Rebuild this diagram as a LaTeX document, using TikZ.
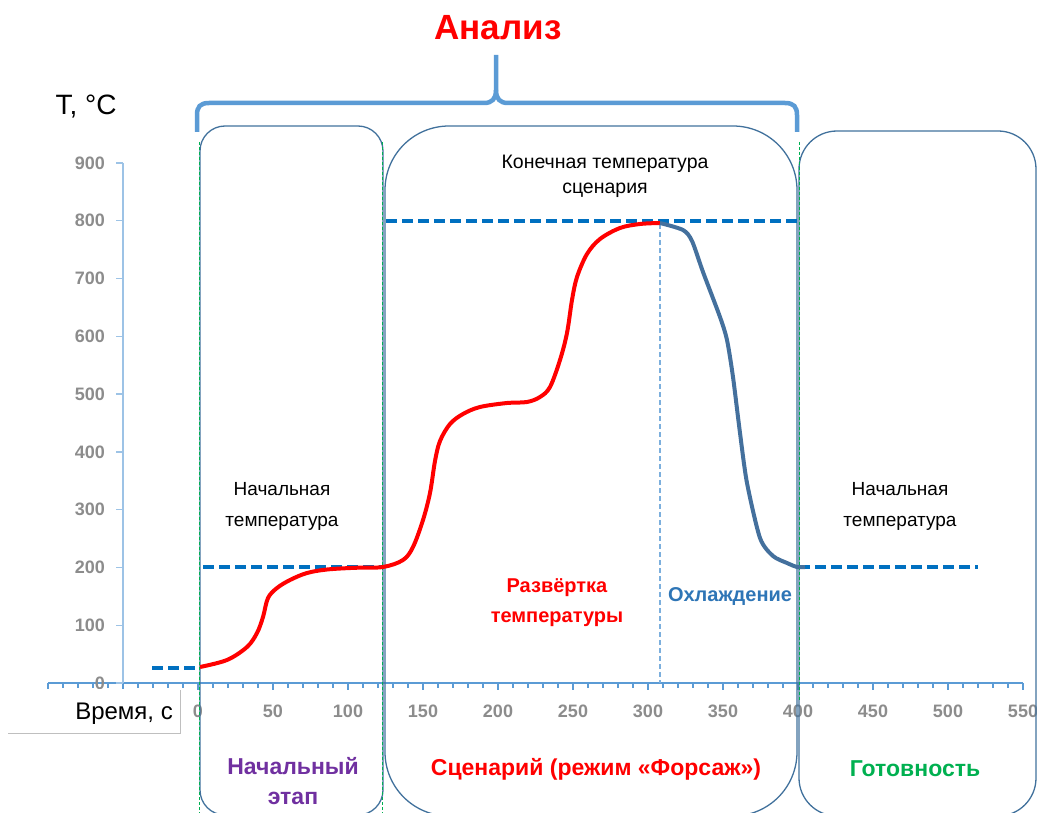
\documentclass[tikz,border=0pt]{standalone}
\usepackage{fontspec}
\setmainfont{Liberation Sans}
\definecolor{boxblue}{HTML}{41719C}
\definecolor{axisblue}{HTML}{5B9BD5}
\definecolor{yaxisblue}{HTML}{9DC3E6}
\definecolor{dashblue}{HTML}{0070C0}
\definecolor{tickgray}{HTML}{8C8C8C}
\definecolor{coolblue}{HTML}{44709D}
\definecolor{ohlblue}{HTML}{2E75B6}
\definecolor{stagepurple}{HTML}{7030A0}
\definecolor{readygreen}{HTML}{00B050}
\definecolor{shadowgray}{HTML}{BFBFBF}
\tikzset{
  boxline/.style={draw=boxblue, line width=1.3pt},
  greendash/.style={draw=readygreen, line width=1pt, dash pattern=on 3pt off 2pt},
  leveldash/.style={draw=dashblue, line width=3.6pt, dash pattern=on 11pt off 5pt},
  markdash/.style={draw=axisblue!80, line width=1.4pt, dash pattern=on 5pt off 3pt},
  bracestyle/.style={draw=axisblue, line width=4.5pt},
  ticklab/.style={text=tickgray, font=\fontsize{18}{21}\selectfont\bfseries, inner sep=0pt},
  plainlab/.style={align=center, inner sep=0pt},
  boldlab/.style={align=center, inner sep=0pt, font=\bfseries},
}
\begin{document}
\begin{tikzpicture}[x=1pt,y=-1pt]
\useasboundingbox (0,0) rectangle (1037,813);
% x axis
\draw[axisblue, line width=1.5pt] (48,683) -- (1023,683);
\foreach \u in {-100,-90,...,550}{
  \draw[axisblue, line width=1.3pt] ({198+1.5*\u},683) -- ({198+1.5*\u},687.5);
}
\foreach \u in {-100,-50,...,550}{
  \draw[axisblue, line width=1.3pt] ({198+1.5*\u},683) -- ({198+1.5*\u},689.5);
}
% y axis
\draw[yaxisblue, line width=1.5pt] (123,163) -- (123,683);
\foreach \v in {0,100,...,900}{
  \draw[yaxisblue, line width=1.3pt] (116,{683-0.5778*\v}) -- (123,{683-0.5778*\v});
  \node[ticklab, anchor=east] (yl\v) at (105,{683-0.5778*\v}) {\v};
}
\foreach \u in {0,50,...,550}{
  \node[ticklab] (xl\u) at ({198+1.5*\u},711) {\u};
}
% boxes
\draw[boxline, rounded corners=25pt] (200,126) rectangle (383,815);
\draw[boxline, rounded corners=64pt] (385,126) rectangle (797,816);
\draw[boxline, rounded corners=38pt] (799,131) rectangle (1036,816);
% green dashed markers
\draw[greendash] (199,142) -- (199,813);
\draw[greendash] (382,142) -- (382,813);
\draw[greendash] (799,142) -- (799,700);
% level lines
\draw[leveldash] (152,668) -- (199,668);
\draw[leveldash] (203,567) -- (383,567);
\draw[leveldash] (386,221) -- (797,221);
\draw[leveldash] (799,567) -- (978,567);
\draw[markdash] (660,224) -- (660,683);
% curves
\draw[red, line width=4pt, line join=round] plot[smooth, tension=0.55] coordinates {
 (200,667) (227,660) (247,647) (257,633) (263,617) (268,598) (277,588) (290,580)
 (307,573) (327,569.5) (355,567.8) (383,567) (403,560) (413,547) (423,520) (430,493)
 (435,461) (440,441) (450,424) (463,414) (480,407) (507,403) (527,402) (540,397)
 (550,387) (560,360) (567,333) (572,300) (577,277) (587,254) (600,239) (620,228)
 (640,224) (660,223)};
\draw[coolblue, line width=4pt, line join=round] plot[smooth, tension=0.45] coordinates {
 (660,223) (683,230) (692,241) (703,272) (720,317) (727,340) (733,377) (740,433)
 (747,483) (760,538) (773,556) (787,563) (797,567) (805,567)};
% brace
\draw[bracestyle] (197,132) -- (197,115) .. controls (197,107) and (200,103) .. (209,103)
  -- (484,103) .. controls (492,103) and (496,99) .. (496,90) -- (496,55);
\draw[bracestyle] (797,132) -- (797,115) .. controls (797,107) and (794,103) .. (785,103)
  -- (508,103) .. controls (500,103) and (496,99) .. (496,90);
% title
\node[inner sep=0pt, text=red, font=\fontsize{35}{40}\selectfont\bfseries] (title) at (498,28) {Анализ};
\node[inner sep=0pt, font=\fontsize{28}{32}\selectfont] (ylabel) at (86,107) {T, °C};
% x label box
\fill[white] (8,689) rectangle (180,733);
\draw[shadowgray, line width=1pt] (8,733) -- (180,733) -- (180,690);
\node[inner sep=0pt, font=\fontsize{24}{28}\selectfont, anchor=east] (xlabel) at (173,714) {Время, с};
% texts
\node[plainlab, font=\fontsize{19}{31}\selectfont] (startL) at (282,506) {Начальная\\температура};
\node[plainlab, font=\fontsize{19}{31}\selectfont] (startR) at (900,506) {Начальная\\температура};
\node[plainlab, font=\fontsize{19.5}{25}\selectfont] (final) at (605,176) {Конечная температура\\сценария};
\node[boldlab, text=red, font=\fontsize{20}{30}\selectfont\bfseries] (ramp) at (557,603) {Развёртка\\температуры};
\node[boldlab, text=ohlblue, font=\fontsize{20}{24}\selectfont\bfseries] (cool) at (730,597) {Охлаждение};
\node[boldlab, text=stagepurple, font=\fontsize{23}{30}\selectfont\bfseries] (stage1) at (293,781) {Начальный\\этап};
\node[boldlab, text=red, font=\fontsize{23}{28}\selectfont\bfseries] (stage2) at (596,769) {Сценарий (режим «Форсаж»)};
\node[boldlab, text=readygreen, font=\fontsize{23}{28}\selectfont\bfseries] (stage3) at (915,769) {Готовность};
\end{tikzpicture}
\end{document}
